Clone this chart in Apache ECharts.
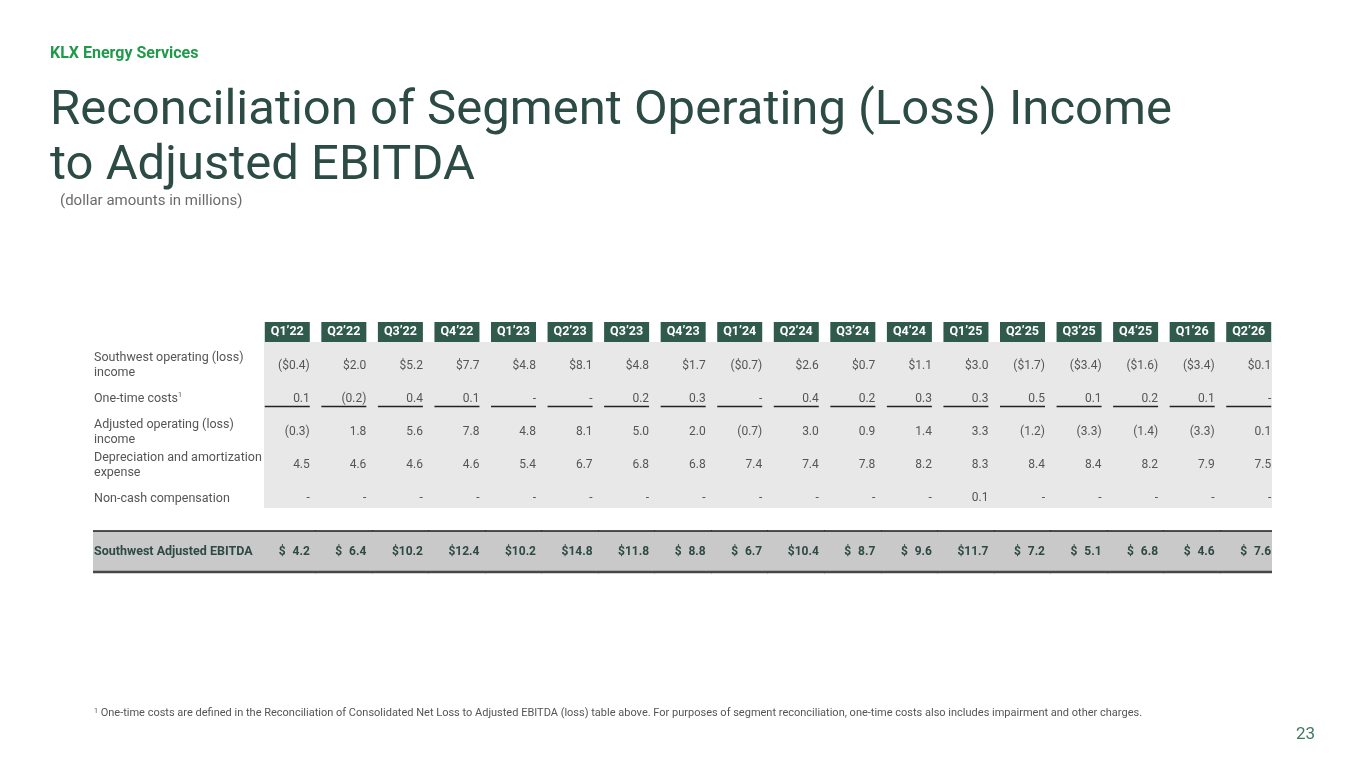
<!DOCTYPE html>
<html>
<head>
<meta charset="utf-8">
<script src="https://cdn.jsdelivr.net/npm/echarts@6.0.0/dist/echarts.min.js"></script>
<style>
html, body { margin: 0; padding: 0; background: #fff; }
#main { width: 1365px; height: 768px; }
</style>
</head>
<body>
<div id="main"></div>
<script>
// column heads
var quarters = ['Q1’22', 'Q2’22', 'Q3’22', 'Q4’22', 'Q1’23', 'Q2’23', 'Q3’23', 'Q4’23', 'Q1’24',
	'Q2’24', 'Q3’24', 'Q4’24', 'Q1’25', 'Q2’25', 'Q3’25', 'Q4’25', 'Q1’26', 'Q2’26'];

// row heads
var rowLabels = ['Southwest operating (loss) income', 'One-time costs', 'Adjusted operating (loss) income',
	'Depreciation and amortization expense', 'Non-cash compensation'];
var totalLabel = 'Southwest Adjusted EBITDA';

// values, $ millions (null = "-")
var opIncome = [-0.4, 2.0, 5.2, 7.7, 4.8, 8.1, 4.8, 1.7, -0.7, 2.6, 0.7, 1.1, 3.0, -1.7, -3.4, -1.6, -3.4, 0.1];
var oneTimeCosts = [0.1, -0.2, 0.4, 0.1, null, null, 0.2, 0.3, null, 0.4, 0.2, 0.3, 0.3, 0.5, 0.1, 0.2, 0.1, null];
var adjOpIncome = [-0.3, 1.8, 5.6, 7.8, 4.8, 8.1, 5.0, 2.0, -0.7, 3.0, 0.9, 1.4, 3.3, -1.2, -3.3, -1.4, -3.3, 0.1];
var deprAmort = [4.5, 4.6, 4.6, 4.6, 5.4, 6.7, 6.8, 6.8, 7.4, 7.4, 7.8, 8.2, 8.3, 8.4, 8.4, 8.2, 7.9, 7.5];
var nonCashComp = [null, null, null, null, null, null, null, null, null, null, null, null, 0.1, null, null, null, null, null];
var adjEbitda = [4.2, 6.4, 10.2, 12.4, 10.2, 14.8, 11.8, 8.8, 6.7, 10.4, 8.7, 9.6, 11.7, 7.2, 5.1, 6.8, 4.6, 7.6];

var footnote = 'One-time costs are defined in the Reconciliation of Consolidated Net Loss to Adjusted EBITDA (loss) table above. For purposes of segment reconciliation, one-time costs also includes impairment and other charges.';

var FONT = 'Roboto, "Noto Sans", sans-serif';
var GREEN = '#2f5a4c';
var LABEL_LEFT = 94;
var GRID_LEFT = 259, GRID_RIGHT = 88;
var BOX_W = 45;      // header box / number column width
var BODY_SHIFT = 7;  // grey body sits a bit above the row centres

function money(v) {
	if (v == null) return '-';
	return v < 0 ? '($' + Math.abs(v).toFixed(1) + ')' : '$' + v.toFixed(1);
}
function plain(v) {
	if (v == null) return '-';
	return v < 0 ? '(' + Math.abs(v).toFixed(1) + ')' : v.toFixed(1);
}

var bodyRows = [
	{ values: opIncome, fmt: money },
	{ values: oneTimeCosts, fmt: plain, underline: true },
	{ values: adjOpIncome, fmt: plain },
	{ values: deprAmort, fmt: plain },
	{ values: nonCashComp, fmt: plain }
];
var bodyCells = [];
bodyRows.forEach(function(r, ri) {
	r.values.forEach(function(v, ci) {
		bodyCells.push({ col: ci, row: ri, text: r.fmt(v), underline: !!r.underline });
	});
});

function cellBox(api, col) {
	var c = api.coord([col, api.value(1)]);
	var s = api.size([1, 1]);
	var last = quarters.length - 1;
	return {
		c: c,
		h: s[1],
		left: col === 0 ? c[0] - BOX_W / 2 : c[0] - s[0] / 2,
		right: col === last ? c[0] + BOX_W / 2 : c[0] + s[0] / 2
	};
}

function renderBody(params, api) {
	var cell = bodyCells[params.dataIndex];
	var b = cellBox(api, cell.col);
	var top = Math.round(b.c[1] - b.h / 2 - BODY_SHIFT);
	var bottom = Math.round(b.c[1] + b.h / 2 - BODY_SHIFT);
	var l = Math.floor(b.left), r = Math.ceil(b.right);
	var children = [{
		type: 'rect',
		shape: { x: l, y: top, width: r - l, height: bottom - top },
		style: { fill: '#e8e8e8' }
	}, {
		type: 'text',
		x: b.c[0] + BOX_W / 2,
		y: b.c[1],
		style: { text: cell.text, align: 'right', verticalAlign: 'middle', fill: '#555', fontSize: 12, fontFamily: FONT }
	}];
	if (cell.underline) {
		children.push({
			type: 'line',
			shape: { x1: b.c[0] - BOX_W / 2, y1: bottom - 1.5, x2: b.c[0] + BOX_W / 2, y2: bottom - 1.5 },
			style: { stroke: '#222', lineWidth: 1.5 }
		});
	}
	return { type: 'group', children: children };
}

function renderTotal(params, api) {
	var col = params.dataIndex;
	var b = cellBox(api, col);
	var left = col === 0 ? LABEL_LEFT - 1 : b.left;
	var top = Math.round(b.c[1] - b.h / 2), bottom = Math.round(b.c[1] + b.h / 2);
	var l = Math.floor(left), r = Math.ceil(b.right);
	var txt = { fontSize: 12, fontWeight: 'bold', fontFamily: FONT, fill: '#2d4a44', verticalAlign: 'middle' };
	return {
		type: 'group',
		children: [{
			type: 'rect',
			shape: { x: l, y: top, width: r - l, height: bottom - top },
			style: { fill: '#c9c9c9' }
		}, {
			type: 'line',
			shape: { x1: l, y1: top, x2: r, y2: top },
			style: { stroke: '#1a1a1a', lineWidth: 1.5 }
		}, {
			type: 'line',
			shape: { x1: l, y1: bottom, x2: r, y2: bottom },
			style: { stroke: '#474747', lineWidth: 2.5 }
		}, {
			type: 'text',
			x: b.c[0] - BOX_W / 2 + 14,
			y: b.c[1],
			style: echarts.util.extend({ text: '$', align: 'left' }, txt)
		}, {
			type: 'text',
			x: b.c[0] + BOX_W / 2,
			y: b.c[1],
			style: echarts.util.extend({ text: adjEbitda[col].toFixed(1), align: 'right' }, txt)
		}]
	};
}

var chart = echarts.init(document.getElementById('main'));
var option = {
	animation: false,
	backgroundColor: '#fff',
	textStyle: { fontFamily: FONT },
	title: [{
		text: 'KLX Energy Services',
		left: 50, top: 46, padding: 0,
		textStyle: { color: '#1f9a4b', fontSize: 16, fontWeight: 'bold', fontFamily: FONT }
	}, {
		text: 'Reconciliation of Segment Operating (Loss) Income\nto Adjusted EBITDA',
		left: 50, top: 84, padding: 0,
		textStyle: { color: '#2b4b44', fontSize: 49, lineHeight: 55, fontWeight: 'normal', fontFamily: FONT }
	}, {
		text: '(dollar amounts in millions)',
		left: 60, top: 194, padding: 0,
		textStyle: { color: '#6b6b6b', fontSize: 15, fontWeight: 'normal', fontFamily: FONT }
	}, {
		text: '{sup|1} ' + footnote,
		left: LABEL_LEFT, top: 708, padding: 0,
		textStyle: {
			color: '#555', fontSize: 11, fontWeight: 'normal', fontFamily: FONT,
			rich: { sup: { fontSize: 7, color: '#555', verticalAlign: 'top', lineHeight: 8 } }
		}
	}, {
		text: '23',
		right: 50, top: 726, padding: 0,
		textStyle: { color: '#3d7a5e', fontSize: 17, fontWeight: 'normal', fontFamily: FONT }
	}],
	grid: [
		{ left: GRID_LEFT, right: GRID_RIGHT, top: 349, height: 166 },
		{ left: GRID_LEFT, right: GRID_RIGHT, top: 531, height: 41 }
	],
	xAxis: [{
		type: 'category',
		gridIndex: 0,
		position: 'top',
		data: quarters,
		axisLine: { show: false },
		axisTick: { show: false },
		axisLabel: {
			interval: 0,
			margin: 7,
			color: '#fff',
			fontSize: 12.5,
			fontWeight: 'bold',
			fontFamily: FONT,
			backgroundColor: GREEN,
			width: BOX_W,
			align: 'center',
			lineHeight: 12,
			padding: [4, 0, 4, 0]
		}
	}, {
		type: 'category',
		gridIndex: 1,
		data: quarters,
		show: false
	}],
	yAxis: [{
		type: 'category',
		gridIndex: 0,
		inverse: true,
		data: rowLabels,
		axisLine: { show: false },
		axisTick: { show: false },
		axisLabel: {
			interval: 0,
			align: 'left',
			margin: GRID_LEFT - LABEL_LEFT,
			width: 172,
			overflow: 'break',
			color: '#555',
			fontSize: 12.5,
			lineHeight: 15,
			fontFamily: FONT,
			formatter: function(v) {
				return v === 'One-time costs' ? v + '{sup|1}' : v;
			},
			rich: { sup: { fontSize: 7, color: '#555', verticalAlign: 'top', lineHeight: 8 } }
		}
	}, {
		type: 'category',
		gridIndex: 1,
		z: 10,
		data: [totalLabel],
		axisLine: { show: false },
		axisTick: { show: false },
		axisLabel: {
			align: 'left',
			margin: GRID_LEFT - LABEL_LEFT,
			color: '#2d4a44',
			fontSize: 12.5,
			fontWeight: 'bold',
			fontFamily: FONT
		}
	}],
	series: [{
		type: 'custom',
		name: 'body',
		xAxisIndex: 0,
		yAxisIndex: 0,
		z: 1,
		renderItem: renderBody,
		data: bodyCells.map(function(c) { return [c.col, c.row]; })
	}, {
		type: 'custom',
		name: 'total',
		xAxisIndex: 1,
		yAxisIndex: 1,
		z: 1,
		renderItem: renderTotal,
		data: adjEbitda.map(function(v, i) { return [i, 0]; })
	}]
};
chart.setOption(option);
</script>
</body>
</html>
